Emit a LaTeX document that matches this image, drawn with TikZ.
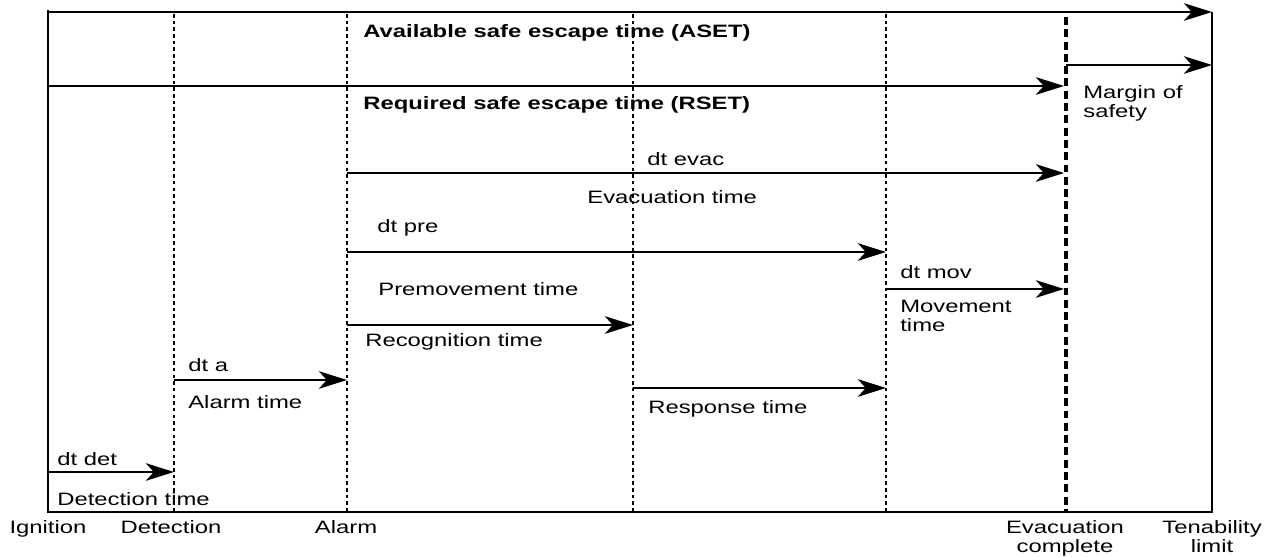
\documentclass[tikz,border=0pt]{standalone}
\usepackage{fontspec}
\setmainfont[FakeStretch=1.33]{Liberation Sans}
\usepackage{tikz}
\usetikzlibrary{arrows.meta}

\begin{document}
\begin{tikzpicture}[
    x=0.02cm, y=-0.02cm,
    every node/.style={inner sep=0pt, font=\fontsize{10.2}{10.8}\selectfont},
    lbl/.style={anchor=base west},
    lbl2/.style={anchor=north west, align=left},
    tag/.style={anchor=base},
    tag2/.style={anchor=north, align=center},
    arr/.style={-{Stealth[length=16pt, width=10pt, inset=4.5pt]}, line width=1.4pt},
    frame/.style={line width=1.1pt},
    guide/.style={line width=1.1pt, dash pattern=on 2pt off 1.8pt},
    evline/.style={line width=1.9pt, dash pattern=on 4.5pt off 2.5pt}
]
    \useasboundingbox (0,0) rectangle (1272,557);

    % event lines
    \coordinate (ign-t) at (48,10);   \coordinate (ign-b) at (48,512);
    \coordinate (det-t) at (174,14);  \coordinate (det-b) at (174,512);
    \coordinate (alm-t) at (347,14);  \coordinate (alm-b) at (347,512);
    \coordinate (rsp-t) at (633,14);  \coordinate (rsp-b) at (633,512);
    \coordinate (mov-t) at (886,14);  \coordinate (mov-b) at (886,512);
    \coordinate (evc-t) at (1066,17); \coordinate (evc-b) at (1066,512);
    \coordinate (ten-t) at (1212,12); \coordinate (ten-b) at (1212,512);

    \draw [frame] (ign-t) -- (ign-b) -- (ten-b) -- (ten-t);
    \draw [guide] (det-t) -- (det-b);
    \draw [guide] (alm-t) -- (alm-b);
    \draw [guide] (rsp-t) -- (rsp-b);
    \draw [guide] (mov-t) -- (mov-b);
    \draw [evline] (evc-t) -- (evc-b);

    % arrow ends
    \coordinate (aset-s) at (48,12);   \coordinate (aset-e) at (1212,12);
    \coordinate (mrg-s) at (1066,65);  \coordinate (mrg-e) at (1212,65);
    \coordinate (rset-s) at (48,86);   \coordinate (rset-e) at (1064,86);
    \coordinate (evac-s) at (347,173); \coordinate (evac-e) at (1064,173);
    \coordinate (pre-s) at (347,252);  \coordinate (pre-e) at (886,252);
    \coordinate (mv-s) at (886,289);   \coordinate (mv-e) at (1064,289);
    \coordinate (rec-s) at (347,325);  \coordinate (rec-e) at (633,325);
    \coordinate (dta-s) at (174,380);  \coordinate (dta-e) at (347,380);
    \coordinate (rs-s) at (633,388);   \coordinate (rs-e) at (886,388);
    \coordinate (dd-s) at (48,472);    \coordinate (dd-e) at (174,472);

    \draw [arr] (aset-s) -- (aset-e);
    \draw [arr] (mrg-s) -- (mrg-e);
    \draw [arr] (rset-s) -- (rset-e);
    \draw [arr] (evac-s) -- (evac-e);
    \draw [arr] (pre-s) -- (pre-e);
    \draw [arr] (mv-s) -- (mv-e);
    \draw [arr] (rec-s) -- (rec-e);
    \draw [arr] (dta-s) -- (dta-e);
    \draw [arr] (rs-s) -- (rs-e);
    \draw [arr] (dd-s) -- (dd-e);

    % labels
    \node [lbl] (aset) at (363,38) {\textbf{Available safe escape time (ASET)}};
    \node [lbl] (rset) at (363,110) {\textbf{Required safe escape time (RSET)}};
    \node [lbl2] (mrg) at (1083,85) {Margin of\\safety};
    \node [lbl] (evac) at (647,166) {dt evac};
    \node [lbl] (evact) at (587,204) {Evacuation time};
    \node [lbl] (pre) at (377,233) {dt pre};
    \node [lbl] (pret) at (378,296) {Premovement time};
    \node [lbl] (mv) at (900,279) {dt mov};
    \node [lbl2] (mvt) at (900,300) {Movement\\time};
    \node [lbl] (rect) at (365,347) {Recognition time};
    \node [lbl] (dta) at (188,372) {dt a};
    \node [lbl] (dtat) at (188,408) {Alarm time};
    \node [lbl] (rst) at (648,414) {Response time};
    \node [lbl] (dd) at (57,465) {dt det};
    \node [lbl] (ddt) at (57,505) {Detection time};

    \node [tag] (ign) at (48,533) {Ignition};
    \node [tag] (det) at (171,533) {Detection};
    \node [tag] (alm) at (346,533) {Alarm};
    \node [tag2] (evc) at (1065,520) {Evacuation\\complete};
    \node [tag2] (ten) at (1212,520) {Tenability\\limit};
\end{tikzpicture}
\end{document}
